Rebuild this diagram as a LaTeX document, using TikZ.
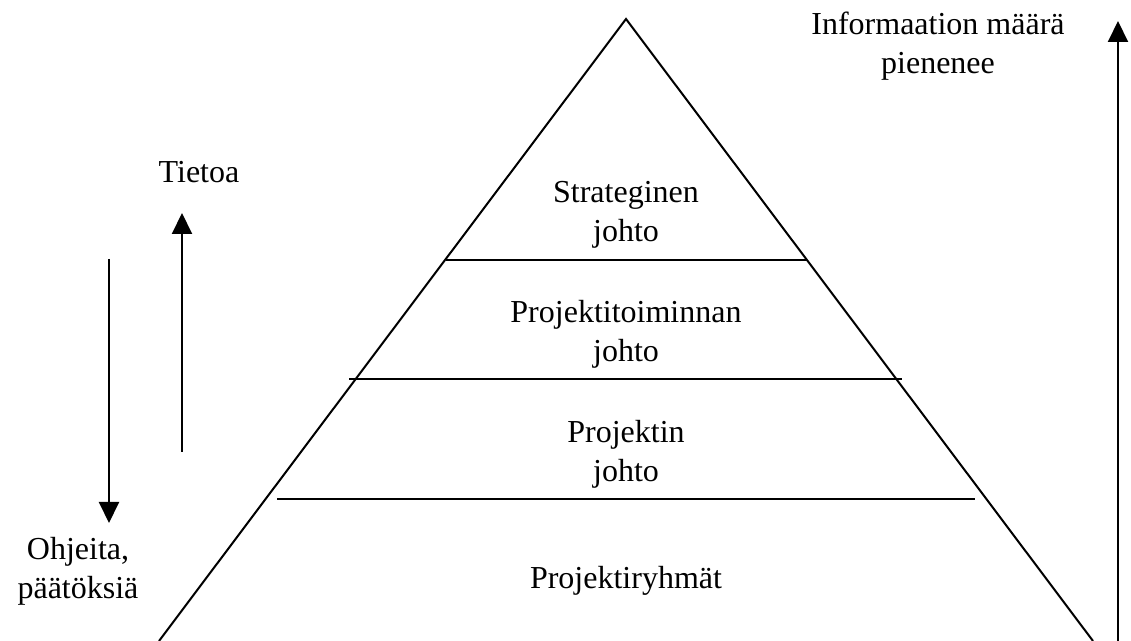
\documentclass[tikz,border=0pt]{standalone}
\usepackage{fontspec}
\setmainfont{Liberation Serif}
\usetikzlibrary{arrows.meta}
\tikzset{
  lvltext/.style={align=center,inner sep=0pt,font=\fontsize{16}{19.5}\selectfont},
  edge/.style={line width=1pt},
  flow/.style={line width=1pt,-{Triangle[width=10pt,length=10.5pt]}},
}

\begin{document}
\begin{tikzpicture}[x=0.5pt,y=-0.5pt]
  \useasboundingbox (0,0) rectangle (1131,641);
  % pyramid
  \coordinate (top)   at (626,19);
  \coordinate (baseL) at (159,641);
  \coordinate (baseR) at (1093,641);
  \draw[edge] (baseL) -- (top) -- (baseR);
  % layer borders
  \coordinate (b1L) at (446,260);  \coordinate (b1R) at (807,260);
  \coordinate (b2L) at (349,379);  \coordinate (b2R) at (902,379);
  \coordinate (b3L) at (277,499);  \coordinate (b3R) at (975,499);
  \draw[edge] (b1L) -- (b1R);
  \draw[edge] (b2L) -- (b2R);
  \draw[edge] (b3L) -- (b3R);
  % layer names
  \node[lvltext] (strat) at (626,215) {Strateginen\\johto};
  \node[lvltext] (ptoim) at (626,334) {Projektitoiminnan\\johto};
  \node[lvltext] (proj)  at (626,454) {Projektin\\johto};
  \node[lvltext] (ryhma) at (626,581) {Projektiryhmät};
  % information arrow
  \coordinate (infoB) at (1118,641);
  \coordinate (infoT) at (1118,21);
  \draw[flow] (infoB) -- (infoT);
  \node[lvltext] (info) at (938,46) {Informaation määrä\\pienenee};
  % left arrows
  \coordinate (upB) at (182,452);   \coordinate (upT) at (182,213);
  \coordinate (dnT) at (109,259);   \coordinate (dnB) at (109,523);
  \draw[flow] (upB) -- (upT);
  \draw[flow] (dnT) -- (dnB);
  \node[lvltext] (tieto) at (199,172) {Tietoa};
  \node[lvltext] (ohje)  at (78,571)  {Ohjeita,\\päätöksiä};
\end{tikzpicture}
\end{document}
